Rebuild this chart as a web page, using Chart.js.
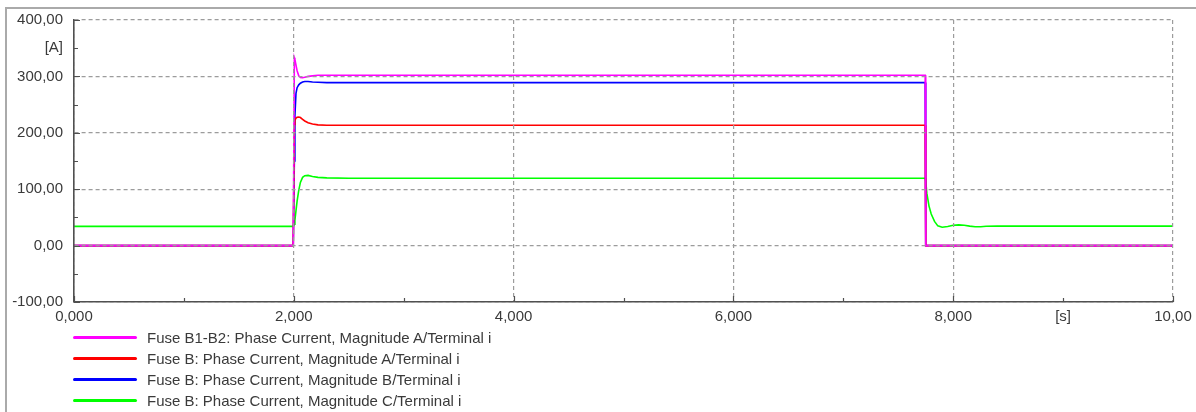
<!DOCTYPE html>
<html>
<head>
<meta charset="utf-8">
<script src="https://cdn.jsdelivr.net/npm/chart.js@4.4.1/dist/chart.umd.min.js"></script>
<style>
  html, body { margin: 0; padding: 0; background: #fff; }
  #wrap { position: relative; width: 1196px; height: 412px; overflow: hidden; font-family: "Liberation Sans", Arial, sans-serif; }
  #frame { position: absolute; left: 5px; top: 7px; width: 1191px; height: 405px; border-top: 2px solid #aaaaaa; border-left: 2px solid #aaaaaa; box-sizing: border-box; }
  #c { position: absolute; left: 0; top: 0; }
  #legend { position: absolute; left: 73px; top: 327px; }
  .row { position: relative; height: 21px; line-height: 21px; font-size: 15px; color: #3a3a3a; white-space: nowrap; }
  .swatch { position: absolute; left: 0; top: 9px; width: 64px; height: 3px; border-radius: 1.5px; }
  .label { position: absolute; left: 74px; top: 0; }
</style>
</head>
<body>
<div id="wrap">
  <div id="frame"></div>
  <canvas id="c" width="1196" height="412"></canvas>
  <div id="legend"></div>
</div>
<script>
// ---- data ----
const seriesNames = [
  "Fuse B1-B2: Phase Current, Magnitude A/Terminal i",
  "Fuse B: Phase Current, Magnitude A/Terminal i",
  "Fuse B: Phase Current, Magnitude B/Terminal i",
  "Fuse B: Phase Current, Magnitude C/Terminal i"
];
const seriesColors = ["#ff00ff", "#ff0000", "#0000ff", "#00ff00"];

// time [s]
const time = [0, 1.995, 2.0, 2.005, 2.01, 2.02, 2.03, 2.045, 2.06, 2.08, 2.1, 2.13, 2.17, 2.22, 2.3, 2.5, 5.0, 7.745,
              7.75, 7.76, 7.78, 7.8, 7.83, 7.86, 7.9, 7.95, 8.0, 8.05, 8.1, 8.15, 8.2, 8.25, 8.3, 8.4, 10.0];

// current [A]
const fuseB1B2_A = [0, 0, 0, 333, 330, 320, 310, 301, 298, 297.5, 298.5, 300, 301, 302, 302, 302, 302, 302,
                    0, 0, 0, 0, 0, 0, 0, 0, 0, 0, 0, 0, 0, 0, 0, 0, 0];
const fuseB_A = [0, 0, 0, 215, 222, 226, 227.5, 228, 227, 224, 221, 218, 215.5, 214, 213.5, 213.5, 213.5, 213.5,
                 0, 0, 0, 0, 0, 0, 0, 0, 0, 0, 0, 0, 0, 0, 0, 0, 0];
const fuseB_B = [0, 0, 0, 150, 230, 270, 280, 285, 288, 290, 291, 291, 290, 289.5, 289, 289, 289, 289,
                 0, 0, 0, 0, 0, 0, 0, 0, 0, 0, 0, 0, 0, 0, 0, 0, 0];
const fuseB_C = [34, 34, 34, 38, 45, 62, 79, 98, 112, 121, 124, 124.5, 122.5, 121, 120, 119.5, 119.5, 119.5,
                 115, 93, 70, 56, 43, 35, 32.5, 34, 36, 36.8, 36, 34.5, 33.3, 33.5, 34.2, 34.5, 34.5];

const seriesValues = [fuseB1B2_A, fuseB_A, fuseB_B, fuseB_C];

// axis tick labels
const xTickLabels = { 0: "0,000", 2: "2,000", 4: "4,000", 6: "6,000", 8: "8,000", 9: "[s]", 10: "10,00" };
const yTickLabels = { "-100": "-100,00", "0": "0,00", "100": "100,00", "200": "200,00", "300": "300,00", "350": "[A]", "400": "400,00" };

// ---- chart ----
const FONT = { family: "'Liberation Sans', Arial, sans-serif", size: 15 };
const GRID = "#9c9c9c";
const AXIS = "#505050";

const datasets = seriesValues.map((vals, i) => ({
  label: seriesNames[i],
  data: time.map((t, k) => ({ x: t, y: vals[k] })),
  borderColor: seriesColors[i],
  backgroundColor: seriesColors[i],
  borderWidth: 1.6,
  pointRadius: 0,
  tension: 0,
  fill: false
}));

const tickMarks = {
  id: "tickMarks",
  afterDraw(chart) {
    const { ctx, chartArea: a, scales: { x, y } } = chart;
    ctx.save();
    ctx.strokeStyle = AXIS;
    ctx.lineWidth = 1.2;
    ctx.beginPath();
    x.ticks.forEach(tk => {
      const px = Math.round(x.getPixelForValue(tk.value)) + 0.5;
      const len = tk.value % 2 === 0 ? 6 : 4;
      ctx.moveTo(px, a.bottom); ctx.lineTo(px, a.bottom - len);
    });
    y.ticks.forEach(tk => {
      const py = Math.round(y.getPixelForValue(tk.value)) + 0.5;
      const len = tk.value % 100 === 0 ? 6 : 4;
      ctx.moveTo(a.left, py); ctx.lineTo(a.left + len, py);
    });
    ctx.stroke();
    ctx.restore();
  }
};

new Chart(document.getElementById("c"), {
  type: "line",
  data: { datasets },
  options: {
    responsive: false,
    animation: false,
    devicePixelRatio: 1,
    layout: { padding: { left: 0, right: 23, top: 17, bottom: 88 } },
    plugins: { legend: { display: false }, tooltip: { enabled: false } },
    scales: {
      x: {
        type: "linear",
        min: 0, max: 10,
        afterFit(s) { s.height = 22; s.paddingLeft = 0; s.paddingRight = 0; },
        ticks: {
          stepSize: 1, autoSkip: false, maxRotation: 0, padding: 6,
          color: "#3a3a3a", font: FONT,
          callback: v => xTickLabels[v] !== undefined ? xTickLabels[v] : ""
        },
        grid: {
          z: 1, drawTicks: false, lineWidth: 1.2,
          color: c => (c.tick && c.tick.value % 2 === 0) ? GRID : "rgba(0,0,0,0)"
        },
        border: { display: true, z: 2, color: AXIS, width: 1.6, dash: [4, 3] }
      },
      y: {
        type: "linear",
        min: -100, max: 400,
        afterFit(s) { s.width = 74; },
        ticks: {
          stepSize: 50, autoSkip: false, padding: 11,
          color: "#3a3a3a", font: FONT,
          callback: v => yTickLabels[String(v)] !== undefined ? yTickLabels[String(v)] : ""
        },
        grid: {
          z: 1, drawTicks: false, lineWidth: 1.2,
          color: c => (c.tick && c.tick.value % 100 === 0) ? GRID : "rgba(0,0,0,0)"
        },
        border: { display: true, z: 2, color: AXIS, width: 1.6, dash: [4, 3] }
      }
    }
  },
  plugins: [tickMarks]
});

// ---- legend (HTML, from the same arrays) ----
const leg = document.getElementById("legend");
seriesNames.forEach((name, i) => {
  const row = document.createElement("div");
  row.className = "row";
  const sw = document.createElement("span");
  sw.className = "swatch";
  sw.style.background = seriesColors[i];
  const lb = document.createElement("span");
  lb.className = "label";
  lb.textContent = name;
  row.appendChild(sw); row.appendChild(lb);
  leg.appendChild(row);
});
</script>
</body>
</html>
